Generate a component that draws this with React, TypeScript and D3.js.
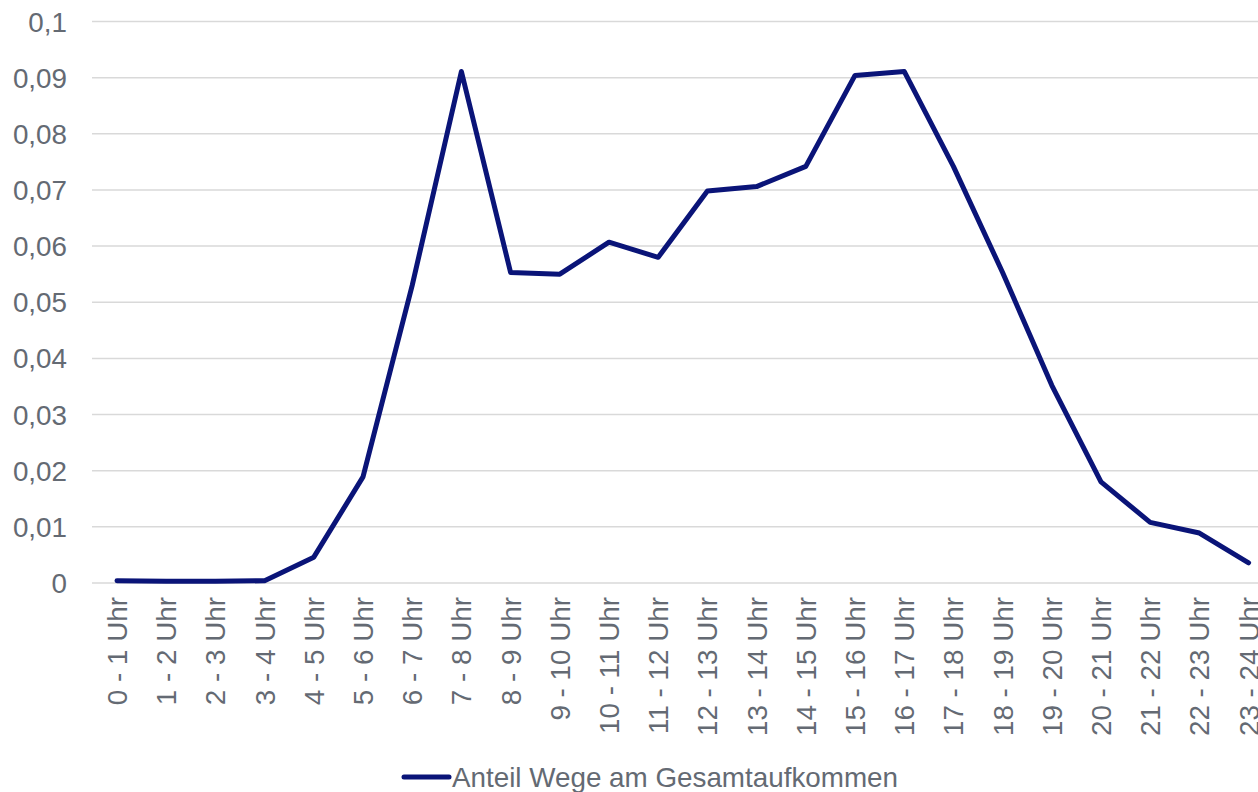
import React from "react";
import * as d3 from "d3";

const categories = [
  "0 - 1 Uhr", "1 - 2 Uhr", "2 - 3 Uhr", "3 - 4 Uhr", "4 - 5 Uhr", "5 - 6 Uhr",
  "6 - 7 Uhr", "7 - 8 Uhr", "8 - 9 Uhr", "9 - 10 Uhr", "10 - 11 Uhr", "11 - 12 Uhr",
  "12 - 13 Uhr", "13 - 14 Uhr", "14 - 15 Uhr", "15 - 16 Uhr", "16 - 17 Uhr", "17 - 18 Uhr",
  "18 - 19 Uhr", "19 - 20 Uhr", "20 - 21 Uhr", "21 - 22 Uhr", "22 - 23 Uhr", "23 - 24 Uhr",
];
const values = [
  0.0004, 0.0003, 0.0003, 0.0004, 0.0046, 0.0189, 0.053, 0.0911, 0.0553, 0.055, 0.0607, 0.058,
  0.0698, 0.0706, 0.0742, 0.0904, 0.0911, 0.0742, 0.0553, 0.0352, 0.018, 0.0108, 0.0089, 0.0036,
];
const yTicks = [0, 0.01, 0.02, 0.03, 0.04, 0.05, 0.06, 0.07, 0.08, 0.09, 0.1];
const seriesName = "Anteil Wege am Gesamtaufkommen";

const W = 1258;
const H = 792;
const TEXT = "#646a73";
const LINE = "#0a1478";
const GRID = "#d9d9d9";
const FS = 27.8;

export default function App() {
  const x = d3.scaleBand<string>().domain(categories).range([92.4, 92.4 + 24 * 49.2]);
  const y = d3.scaleLinear().domain([0, 0.1]).range([583, 21.5]);
  const cx = (c: string) => (x(c) as number) + x.bandwidth() / 2;
  const line = d3
    .line<number>()
    .x((_, i) => cx(categories[i]))
    .y((d) => y(d));
  const fmt = (v: number) => (v === 0 ? "0" : d3.format(".2~f")(v).replace(".", ","));

  return (
    <svg
      width={W}
      height={H}
      style={{ position: "absolute", left: 0, top: 0, background: "#fff" }}
      fontFamily="Arial, 'Liberation Sans', sans-serif"
    >
      {yTicks.map((t) => (
        <g key={t}>
          <line x1={92} x2={W} y1={y(t)} y2={y(t)} stroke={GRID} strokeWidth={1.5} />
          <text x={67} y={y(t)} dy="0.36em" textAnchor="end" fontSize={FS} fill={TEXT}>
            {fmt(t)}
          </text>
        </g>
      ))}
      {categories.map((c) => (
        <text
          key={c}
          transform={`translate(${cx(c)},597) rotate(-90)`}
          textAnchor="end"
          dy="0.36em"
          fontSize={FS}
          fill={TEXT}
        >
          {c}
        </text>
      ))}
      <path d={line(values) || ""} fill="none" stroke={LINE} strokeWidth={5} strokeLinejoin="round" strokeLinecap="round" />
      <line x1={404} x2={449} y1={777} y2={777} stroke={LINE} strokeWidth={5} strokeLinecap="round" />
      <text x={452} y={787} fontSize={FS} fill={TEXT}>
        {seriesName}
      </text>
    </svg>
  );
}
